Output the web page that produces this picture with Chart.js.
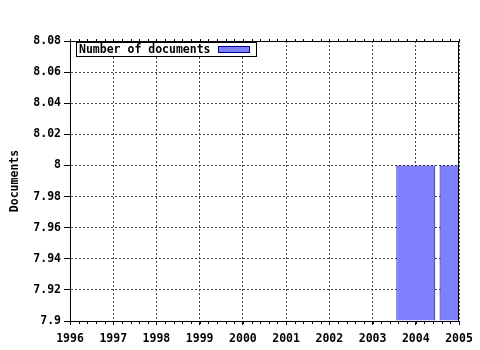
<!DOCTYPE html>
<html>
<head>
<meta charset="utf-8">
<script src="https://cdn.jsdelivr.net/npm/chart.js@4"></script>
<style>
  html, body { margin: 0; padding: 0; background: #fff; }
</style>
</head>
<body>
<canvas id="chart" width="480" height="350"></canvas>
<script>
// --- data ---
const years = [2004, 2005];
const docs = [8, 8];
const xTicks = [1996, 1997, 1998, 1999, 2000, 2001, 2002, 2003, 2004, 2005];
const yTicks = [7.9, 7.92, 7.94, 7.96, 7.98, 8, 8.02, 8.04, 8.06, 8.08];
const seriesLabel = 'Number of documents';
const yTitle = 'Documents';

const FONT = { family: '"DejaVu Sans Mono", monospace', size: 11.5, weight: 'bold' };
const BAR_FILL = '#8080ff';
const BAR_LINE = '#000099';

// frame, minor ticks and the boxed legend inside the plot
const extras = {
  id: 'extras',
  afterDatasetsDraw(chart) {
    const { ctx, chartArea: a, scales: { x } } = chart;
    ctx.save();
    ctx.strokeStyle = '#000';
    ctx.lineWidth = 1;
    ctx.strokeRect(Math.round(a.left) + 0.5, Math.round(a.top) + 0.5,
      Math.round(a.right - a.left) - 1, Math.round(a.bottom - a.top));
    // minor ticks top and bottom (5 per year)
    ctx.beginPath();
    for (let v = xTicks[0]; v <= xTicks[xTicks.length - 1] + 1e-6; v += 0.2) {
      const px = Math.round(x.getPixelForValue(v)) + 0.5;
      ctx.moveTo(px, Math.round(a.bottom)); ctx.lineTo(px, Math.round(a.bottom) + 3);
      ctx.moveTo(px, Math.round(a.top)); ctx.lineTo(px, Math.round(a.top) - 2);
    }
    ctx.stroke();
    ctx.restore();
  },
  afterDraw(chart) {
    const { ctx } = chart;
    const ds = chart.data.datasets[0];
    ctx.save();
    ctx.fillStyle = '#fff';
    ctx.fillRect(77, 42, 179, 15);
    ctx.strokeStyle = '#000';
    ctx.lineWidth = 1;
    ctx.strokeRect(76.5, 42.5, 180, 14);
    ctx.font = `${FONT.weight} ${FONT.size}px ${FONT.family}`;
    ctx.fillStyle = '#000';
    ctx.textBaseline = 'middle';
    ctx.fillText(ds.label, 79, 50);
    ctx.fillStyle = ds.backgroundColor;
    ctx.fillRect(218, 46, 32, 7);
    ctx.strokeStyle = ds.borderColor;
    ctx.strokeRect(218.5, 46.5, 31, 6);
    ctx.restore();
  }
};

new Chart(document.getElementById('chart'), {
  type: 'bar',
  data: {
    datasets: [{
      label: seriesLabel,
      data: years.map((yr, i) => ({ x: yr, y: docs[i] })),
      base: yTicks[0],
      backgroundColor: BAR_FILL,
      borderColor: BAR_LINE,
      borderWidth: 1,
      borderSkipped: 'start',
      inflateAmount: 0,
      barPercentage: 0.9,
      categoryPercentage: 1
    }]
  },
  options: {
    responsive: false,
    animation: false,
    devicePixelRatio: 1,
    layout: { padding: { left: 0, right: 21, top: 41, bottom: 0 } },
    plugins: { legend: { display: false }, tooltip: { enabled: false } },
    scales: {
      x: {
        type: 'linear',
        offset: false,
        min: xTicks[0],
        max: xTicks[xTicks.length - 1],
        afterBuildTicks: s => { s.ticks = xTicks.map(v => ({ value: v })); },
        afterFit: s => { s.height = 29; },
        grid: { offset: false, color: '#444', lineWidth: 1, tickLength: 4, tickColor: '#000' },
        border: { display: true, color: '#000', width: 1, dash: [2, 2] },
        ticks: { color: '#000', font: FONT, padding: 7, maxRotation: 0, autoSkip: false,
                 callback: v => String(v) }
      },
      y: {
        min: yTicks[0],
        max: yTicks[yTicks.length - 1],
        afterBuildTicks: s => { s.ticks = yTicks.map(v => ({ value: v })); },
        afterFit: s => { s.width = 70; },
        grid: { color: '#444', lineWidth: 1, tickLength: 6, tickColor: '#000' },
        border: { display: true, color: '#000', width: 1, dash: [2, 2] },
        ticks: { color: '#000', font: FONT, padding: 3, callback: v => String(+v.toFixed(2)) },
        title: { display: true, text: yTitle, color: '#000', font: FONT, padding: { top: 8, bottom: 0 } }
      }
    }
  },
  plugins: [extras]
});
</script>
</body>
</html>
